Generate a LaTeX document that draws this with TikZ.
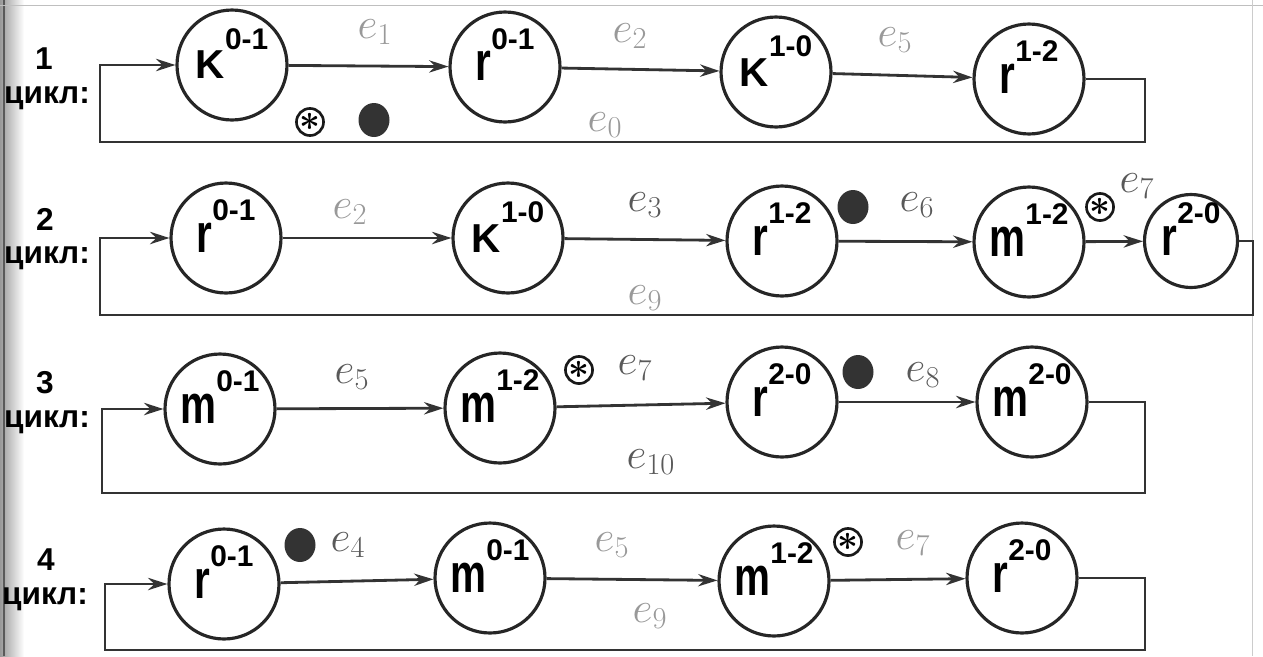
\documentclass[tikz,border=0pt]{standalone}
\usepackage{fontspec}
\setmainfont{Liberation Sans}
\usetikzlibrary{arrows.meta,shapes.geometric}
\newsavebox{\vletter}
\newcommand{\vlab}[2]{\smash{\makebox[0pt]{\raisebox{-0.28cm}{\sbox{\vletter}{#1}\usebox{\vletter}\raisebox{\dimexpr\ht\vletter+1pt\relax}{\fontsize{17}{17}\selectfont #2}}}}}
\newcommand{\tl}[1]{\scalebox{1}[1.35]{#1}}
\tikzset{
  vert/.style={draw=black!85, line width=1.8pt, circle, minimum size=2.2cm, inner sep=0pt, font=\bfseries\fontsize{23}{23}\selectfont},
  signal/.style={-{Stealth[length=11pt,width=7pt]}, line width=1.6pt, draw=black!80},
  elab/.style={text=black!40, font=\fontsize{24}{24}\selectfont},
  elabd/.style={text=black!65, font=\fontsize{24}{24}\selectfont},
  blackdot/.style={ellipse, fill=black!80, minimum width=0.62cm, minimum height=0.68cm, inner sep=0pt},
  starmark/.style={circle, draw=black!90, line width=1.5pt, minimum size=0.52cm, inner sep=0pt, font=\boldmath\fontsize{20}{20}\selectfont},
  cycnum/.style={inner sep=0pt, font=\bfseries\fontsize{18}{18}\selectfont},
  cycword/.style={inner sep=0pt, font=\bfseries\fontsize{18}{18}\selectfont}
}
\begin{document}
\begin{tikzpicture}[x=0.02cm, y=-0.02cm]
  \useasboundingbox (0,0) rectangle (1263,656);
  \shade[left color=black!40, right color=white] (0,0) rectangle (24,656);
  \draw[black!65, line width=1pt] (4,0) -- (4,656);
  \draw[black!25] (0,5) -- (1263,5);
  \draw[black!20] (1252,0) -- (1252,656);

  % 1 цикл
  \node[cycnum] (n1) at (44,59) {1};
  \node[cycword] (w1) at (47,98) {цикл:};
  \node[vert] (c1k01) at (232,65) {\vlab{K}{0-1}};
  \node[vert] (c1r01) at (505,67) {\vlab{\tl{r}}{0-1}};
  \node[vert] (c1k10) at (776,72) {\vlab{K}{1-0}};
  \node[vert] (c1r12) at (1029,79) {\vlab{\tl{r}}{1-2}};
  \coordinate (c1se) at (1145,142);
  \coordinate (c1sw) at (100,142);
  \draw[signal] (c1k01) -- (c1r01);
  \draw[signal] (c1r01) -- (c1k10);
  \draw[signal] (c1k10) -- (c1r12);
  \draw[signal] (c1r12.east) -| (c1se) -- (c1sw) |- (c1k01.west);
  \node[elab] (c1e1) at (375,32) {$e_1$};
  \node[elab] (c1e2) at (630,36) {$e_2$};
  \node[elab] (c1e5) at (895,40) {$e_5$};
  \node[elab] (c1e0) at (605,125) {$e_0$};
  \node[starmark] (c1s) at (310,122) {$\ast$};
  \node[blackdot] (c1d) at (374,120) {};

  % 2 цикл
  \node[cycnum] (n2) at (45,219) {2};
  \node[cycword] (w2) at (47,258) {цикл:};
  \node[vert] (c2r01) at (226,238) {\vlab{\tl{r}}{0-1}};
  \node[vert] (c2k10) at (508,238) {\vlab{K}{1-0}};
  \node[vert] (c2r12) at (782,241) {\vlab{\tl{r}}{1-2}};
  \node[vert] (c2m12) at (1029,242) {\vlab{\tl{m}}{1-2}};
  \node[vert, minimum size=1.86cm] (c2r20) at (1191,241) {\vlab{\tl{r}}{2-0}};
  \coordinate (c2se) at (1253,315);
  \coordinate (c2sw) at (100,315);
  \draw[signal] (c2r01) -- (c2k10);
  \draw[signal] (c2k10) -- (c2r12);
  \draw[signal] (c2r12) -- (c2m12);
  \draw[signal] (c2m12) -- (c2r20);
  \draw[signal] (c2r20.east) -| (c2se) -- (c2sw) |- (c2r01.west);
  \node[elab] (c2e2) at (350,212) {$e_2$};
  \node[elabd] (c2e3) at (645,205) {$e_3$};
  \node[elabd] (c2e6) at (917,205) {$e_6$};
  \node[elabd] (c2e7) at (1137,186) {$e_7$};
  \node[elab] (c2e9) at (645,298) {$e_9$};
  \node[blackdot] (c2d) at (853,207) {};
  \node[starmark] (c2s) at (1100,207) {$\ast$};

  % 3 цикл
  \node[cycnum] (n3) at (45,383) {3};
  \node[cycword] (w3) at (47,422) {цикл:};
  \node[vert] (c3m01) at (220,409) {\vlab{\tl{m}}{0-1}};
  \node[vert] (c3m12) at (500,408) {\vlab{\tl{m}}{1-2}};
  \node[vert] (c3r20) at (782,402) {\vlab{\tl{r}}{2-0}};
  \node[vert] (c3m20) at (1032,402) {\vlab{\tl{m}}{2-0}};
  \coordinate (c3se) at (1145,493);
  \coordinate (c3sw) at (102,493);
  \draw[signal] (c3m01) -- (c3m12);
  \draw[signal] (c3m12) -- (c3r20);
  \draw[signal] (c3r20) -- (c3m20);
  \draw[signal] (c3m20.east) -| (c3se) -- (c3sw) |- (c3m01.west);
  \node[elabd] (c3e5) at (352,377) {$e_5$};
  \node[elabd] (c3e7) at (635,368) {$e_7$};
  \node[elabd] (c3e8) at (923,375) {$e_8$};
  \node[elabd] (c3e10) at (651,462) {$e_{10}$};
  \node[starmark] (c3s) at (579,370) {$\ast$};
  \node[blackdot] (c3d) at (858,372) {};

  % 4 цикл
  \node[cycnum] (n4) at (46,560) {4};
  \node[cycword] (w4) at (45,599) {цикл:};
  \node[vert] (c4r01) at (224,584) {\vlab{\tl{r}}{0-1}};
  \node[vert] (c4m01) at (490,578) {\vlab{\tl{m}}{0-1}};
  \node[vert] (c4m12) at (774,581) {\vlab{\tl{m}}{1-2}};
  \node[vert] (c4r20) at (1022,578) {\vlab{\tl{r}}{2-0}};
  \coordinate (c4se) at (1145,650);
  \coordinate (c4sw) at (105,650);
  \draw[signal] (c4r01) -- (c4m01);
  \draw[signal] (c4m01) -- (c4m12);
  \draw[signal] (c4m12) -- (c4r20);
  \draw[signal] (c4r20.east) -| (c4se) -- (c4sw) |- (c4r01.west);
  \node[elabd] (c4e4) at (348,545) {$e_4$};
  \node[elab] (c4e5) at (612,545) {$e_5$};
  \node[elab] (c4e7) at (913,543) {$e_7$};
  \node[elab] (c4e9) at (650,616) {$e_9$};
  \node[blackdot] (c4d) at (300,545) {};
  \node[starmark] (c4s) at (848,542) {$\ast$};
\end{tikzpicture}
\end{document}
